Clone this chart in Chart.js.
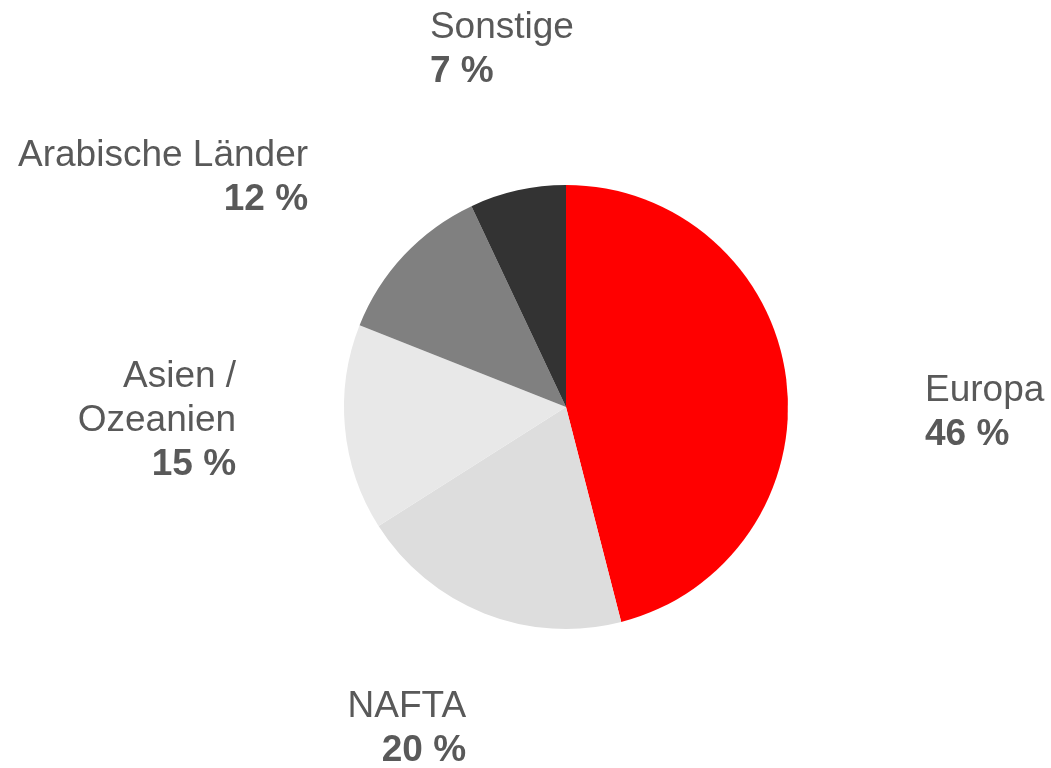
<!DOCTYPE html>
<html>
<head>
<meta charset="utf-8">
<script src="https://cdn.jsdelivr.net/npm/chart.js@4"></script>
<style>
    html, body { margin: 0; padding: 0; background: #ffffff; }
    #wrap { width: 1051px; height: 768px; position: relative; }
</style>
</head>
<body>
<div id="wrap"><canvas id="pieChart"></canvas></div>
<script>
"use strict";

// chart data
const regions = [["Europa"], ["NAFTA"], ["Asien /", "Ozeanien"], ["Arabische Länder"], ["Sonstige"]];
const shares = [46, 20, 15, 12, 7];
const sliceColors = ["#ff0000", "#dddddd", "#e8e8e8", "#808080", "#333333"];

(() => {

    // where each label block sits, relative to pie centre, in units of the radius
    const labelPlacement = [
        { x: 1.617, y: 0.014, align: "left" },
        { x: -0.45, y: 1.437, align: "right" },
        { x: -1.486, y: 0.05, align: "right" },
        { x: -1.162, y: -1.045, align: "right" },
        { x: -0.613, y: -1.622, align: "left" }
    ];

    const outsideLabels = {
        id: "outsideLabels",
        afterDatasetsDraw(chart) {
            const ctx = chart.ctx;
            const arcs = chart.getDatasetMeta(0).data;
            const lineHeight = 44;
            ctx.save();
            ctx.fillStyle = "#595959";
            ctx.textBaseline = "alphabetic";
            arcs.forEach((arc, i) => {
                const place = labelPlacement[i];
                const r = arc.outerRadius;
                const ax = arc.x + place.x * r;
                const ay = arc.y + place.y * r;
                const lines = regions[i].concat([shares[i] + " %"]);
                let baseY = ay - (lines.length - 1) * lineHeight / 2 + 13;
                ctx.textAlign = place.align;
                lines.forEach((line, k) => {
                    const isValue = k === lines.length - 1;
                    ctx.font = (isValue ? "bold " : "") + "37px 'Liberation Sans', Arial, sans-serif";
                    ctx.fillText(line, ax, baseY + k * lineHeight);
                });
            });
            ctx.restore();
        }
    };

    const ctx = document.getElementById("pieChart");

    new Chart(ctx, {
        type: "pie",
        data: {
            labels: regions.map((r) => r.join(" ")),
            datasets: [{
                data: shares,
                backgroundColor: sliceColors,
                borderWidth: 0
            }]
        },
        options: {
            responsive: true,
            maintainAspectRatio: false,
            animation: false,
            layout: {
                padding: { left: 300, right: 219, top: 185, bottom: 139 }
            },
            plugins: {
                legend: { display: false },
                tooltip: { enabled: false }
            }
        },
        plugins: [outsideLabels]
    });

})();
</script>
</body>
</html>
